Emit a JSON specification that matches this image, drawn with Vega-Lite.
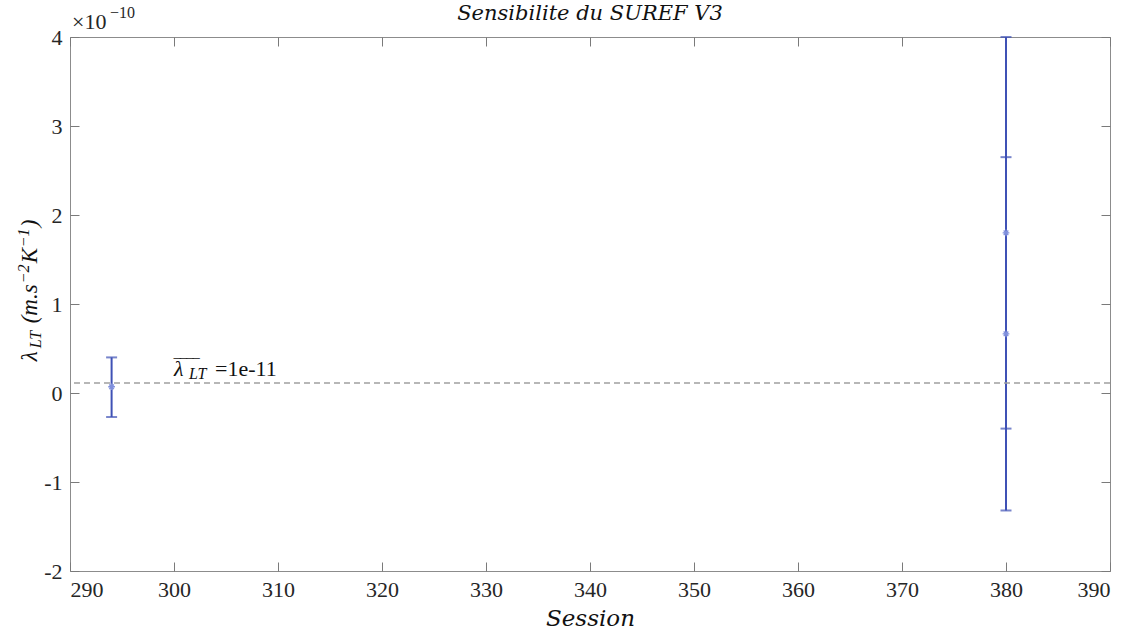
{
  "$schema": "https://vega.github.io/schema/vega-lite/v6.json",
  "width": 1040,
  "height": 534,
  "autosize": {"type": "none"},
  "padding": {"left": 70, "top": 37, "right": 31, "bottom": 67},
  "background": "white",
  "config": {
    "font": "Liberation Serif",
    "view": {"stroke": "#8c8c8c", "strokeWidth": 1},
    "axis": {
      "grid": false,
      "domain": false,
      "tickColor": "#7a7a7a",
      "tickSize": -9,
      "labelFont": "Liberation Serif",
      "labelFontSize": 22,
      "labelColor": "#262626",
      "titleFont": "DejaVu Serif",
      "titleFontSize": 23,
      "titleFontWeight": "normal",
      "titleColor": "#111111"
    }
  },
  "datasets": {
    "pts": [
      {"session": 294, "lambda": 0.07e-10, "lo": -0.27e-10, "hi": 0.40e-10},
      {"session": 380, "lambda": 1.80e-10, "lo": -0.40e-10, "hi": 4.00e-10},
      {"session": 380, "lambda": 0.665e-10, "lo": -1.32e-10, "hi": 2.65e-10}
    ],
    "mean": [{"mean": 1.13e-11}],
    "ytitle": [
      {"part": "λ", "kind": "main", "pos": 0},
      {"part": "LT", "kind": "sub", "pos": 13},
      {"part": "(m.s", "kind": "main", "pos": 38},
      {"part": "−2", "kind": "sup", "pos": 78},
      {"part": "K", "kind": "main", "pos": 98},
      {"part": "−1", "kind": "sup", "pos": 114},
      {"part": ")", "kind": "main", "pos": 134}
    ]
  },
  "resolve": {"axis": {"x": "independent", "y": "independent"}},
  "layer": [
    {
      "data": {"name": "pts"},
      "mark": {"type": "rule", "color": "#3f51b5", "strokeWidth": 2},
      "encoding": {
        "x": {"field": "session", "type": "quantitative",
              "scale": {"domain": [290, 390], "nice": false, "zero": false},
              "axis": {"orient": "bottom", "values": [290,300,310,320,330,340,350,360,370,380,390],
                       "labelPadding": 17, "title": "Session", "titleFontStyle": "italic", "titlePadding": 7}},
        "y": {"field": "lo", "type": "quantitative",
              "scale": {"domain": [-2e-10, 4e-10], "nice": false, "zero": false},
              "axis": {"orient": "left", "values": [-2e-10,-1e-10,0,1e-10,2e-10,3e-10,4e-10],
                       "labelExpr": "toString(round(datum.value*1e10))",
                       "labelPadding": 17, "title": null}},
        "y2": {"field": "hi"}
      }
    },
    {
      "data": {"name": "pts"},
      "mark": {"type": "tick", "orient": "horizontal", "color": "#3f51b5", "size": 11, "thickness": 2},
      "encoding": {
        "x": {"field": "session", "type": "quantitative",
              "axis": {"orient": "top", "values": [290,300,310,320,330,340,350,360,370,380,390], "labels": false, "title": null}},
        "y": {"field": "lo", "type": "quantitative",
              "axis": {"orient": "right", "values": [-2e-10,-1e-10,0,1e-10,2e-10,3e-10,4e-10], "labels": false, "title": null}}
      }
    },
    {
      "data": {"name": "pts"},
      "mark": {"type": "tick", "orient": "horizontal", "color": "#3f51b5", "size": 11, "thickness": 2},
      "encoding": {
        "x": {"field": "session", "type": "quantitative", "axis": null},
        "y": {"field": "hi", "type": "quantitative", "axis": null}
      }
    },
    {
      "data": {"name": "pts"},
      "mark": {"type": "point", "shape": "M-1,0L1,0M0,-1L0,1M-0.7,-0.7L0.7,0.7M-0.7,0.7L0.7,-0.7", "filled": false, "color": "#7f8fdc", "size": 45, "strokeWidth": 1.3, "opacity": 1},
      "encoding": {
        "x": {"field": "session", "type": "quantitative", "axis": null},
        "y": {"field": "lambda", "type": "quantitative", "axis": null}
      }
    },
    {
      "data": {"name": "mean"},
      "mark": {"type": "rule", "color": "#a0a0a0", "strokeWidth": 1.5, "strokeDash": [6, 4]},
      "encoding": {
        "y": {"field": "mean", "type": "quantitative", "axis": null}
      }
    },
    {
      "data": {"name": "mean"},
      "mark": {"type": "text", "text": "λ", "fontStyle": "italic", "fontSize": 22, "align": "left", "baseline": "alphabetic", "dx": 0, "dy": -7, "color": "#111111"},
      "encoding": {
        "x": {"datum": 300, "type": "quantitative", "axis": null},
        "y": {"field": "mean", "type": "quantitative", "axis": null}
      }
    },
    {
      "data": {"name": "mean"},
      "mark": {"type": "text", "text": "LT", "fontStyle": "italic", "fontSize": 16, "align": "left", "baseline": "alphabetic", "dx": 15, "dy": -4, "color": "#111111"},
      "encoding": {
        "x": {"datum": 300, "type": "quantitative", "axis": null},
        "y": {"field": "mean", "type": "quantitative", "axis": null}
      }
    },
    {
      "data": {"name": "mean"},
      "mark": {"type": "text", "text": "‾‾‾‾", "fontSize": 19, "align": "left", "baseline": "alphabetic", "dx": 0, "dy": -10, "color": "#111111"},
      "encoding": {
        "x": {"datum": 300, "type": "quantitative", "axis": null},
        "y": {"field": "mean", "type": "quantitative", "axis": null}
      }
    },
    {
      "data": {"name": "mean"},
      "mark": {"type": "text", "text": "=1e-11", "fontSize": 22, "align": "left", "baseline": "alphabetic", "dx": 41, "dy": -7, "color": "#111111"},
      "encoding": {
        "x": {"datum": 300, "type": "quantitative", "axis": null},
        "y": {"field": "mean", "type": "quantitative", "axis": null}
      }
    },
    {
      "data": {"name": "mean"},
      "mark": {"type": "text", "text": "×10", "fontSize": 22, "align": "left", "baseline": "alphabetic", "dx": 2, "dy": -8, "color": "#262626"},
      "encoding": {
        "x": {"datum": 290, "type": "quantitative", "axis": null},
        "y": {"datum": 4e-10, "type": "quantitative", "axis": null}
      }
    },
    {
      "data": {"name": "mean"},
      "mark": {"type": "text", "text": "−10", "fontSize": 16, "align": "left", "baseline": "alphabetic", "dx": 40, "dy": -19, "color": "#262626"},
      "encoding": {
        "x": {"datum": 290, "type": "quantitative", "axis": null},
        "y": {"datum": 4e-10, "type": "quantitative", "axis": null}
      }
    },
    {
      "data": {"name": "mean"},
      "mark": {"type": "text", "text": "Sensibilite du SUREF V3", "font": "DejaVu Serif", "fontStyle": "italic", "fontSize": 21, "align": "center", "baseline": "alphabetic", "dy": -17, "color": "#111111"},
      "encoding": {
        "x": {"datum": 340, "type": "quantitative", "axis": null},
        "y": {"datum": 4e-10, "type": "quantitative", "axis": null}
      }
    },
    {
      "data": {"name": "ytitle"},
      "mark": {"type": "text", "angle": 270, "align": "left", "baseline": "alphabetic", "fontStyle": "italic", "color": "#111111",
               "dy": {"expr": "datum.kind === 'sub' ? -29 : (datum.kind === 'sup' ? -41 : -33)"},
               "dx": {"expr": "31.7 + datum.pos"},
               "fontSize": {"expr": "datum.kind === 'main' ? 23 : 16"}},
      "encoding": {
        "x": {"datum": 290, "type": "quantitative", "axis": null},
        "y": {"datum": 0, "type": "quantitative", "axis": null},
        "text": {"field": "part"}
      }
    }
  ]
}
